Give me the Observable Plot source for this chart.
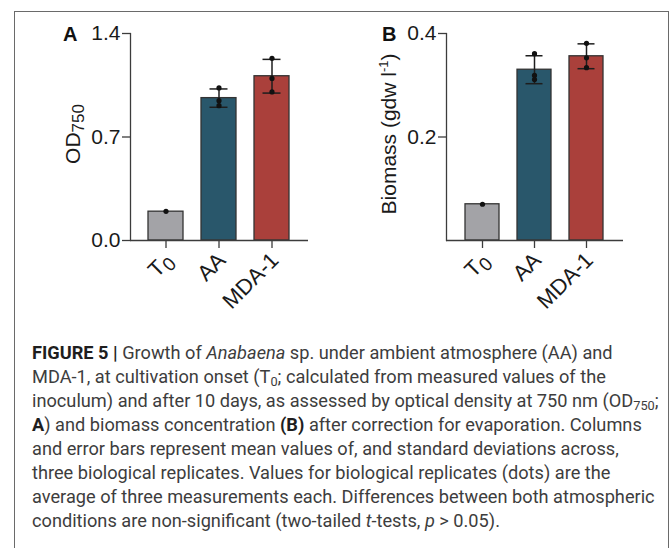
<!DOCTYPE html>
<html><head><meta charset="utf-8">
<script src="https://cdn.jsdelivr.net/npm/d3@7"></script>
<script src="https://cdn.jsdelivr.net/npm/@observablehq/plot@0.6"></script>
<style>
html,body{margin:0;padding:0;background:#fff;}
body{width:669px;height:548px;overflow:hidden;position:relative;font-family:"Liberation Sans",Arial,sans-serif;}
#frame{position:absolute;left:14px;top:11px;width:655px;height:700px;border:1px solid #6a6a6a;box-sizing:border-box;}
#pa{position:absolute;left:0;top:0;}
#pb{position:absolute;left:330px;top:0;}
.plabel{position:absolute;font-weight:bold;font-size:20px;color:#111;line-height:1;}
#cap{position:absolute;left:32px;top:341px;font-family:Roboto,"Liberation Sans",sans-serif;font-size:18.2px;line-height:24px;color:#3d3d3d;white-space:nowrap;}
#cap b{color:#1e1e1e;}
#cap sub{font-size:.7em;line-height:0;vertical-align:-0.25em;}
</style></head>
<body>
<div id="frame"></div>
<div id="pa"></div>
<div id="pb"></div>
<div class="plabel" style="left:63px;top:24px;">A</div>
<div class="plabel" style="left:382px;top:24px;">B</div>
<div id="cap">
<div><b>FIGURE 5 |</b> Growth of <i>Anabaena</i> sp. under ambient atmosphere (AA) and</div>
<div>MDA-1, at cultivation onset (T<sub>0</sub>; calculated from measured values of the</div>
<div>inoculum) and after 10 days, as assessed by optical density at 750 nm (OD<sub>750</sub>;</div>
<div><b>A</b>) and biomass concentration <b>(B)</b> after correction for evaporation. Columns</div>
<div>and error bars represent mean values of, and standard deviations across,</div>
<div>three biological replicates. Values for biological replicates (dots) are the</div>
<div>average of three measurements each. Differences between both atmospheric</div>
<div>conditions are non-significant (two-tailed <i>t</i>-tests, <i>p</i> &gt; 0.05).</div>
</div>
<script>
// ---- data ----
const categories = ["T0", "AA", "MDA-1"];
const barColors = ["#a3a3a7", "#29576b", "#aa403b"];

// Panel A: optical density OD750
const odMean = [0.195, 0.963, 1.111];
const odSD = [0, 0.062, 0.114];
const odT0 = [0.197];
const odAA = [1.032, 0.946, 0.912];
const odMDA = [1.232, 1.096, 1.005];
const odTicks = [0, 0.7, 1.4];

// Panel B: biomass (gdw l-1)
const bmMean = [0.070, 0.330, 0.356];
const bmSD = [0, 0.027, 0.024];
const bmT0 = [0.070];
const bmAA = [0.361, 0.311, 0.319];
const bmMDA = [0.381, 0.353, 0.334];
const bmTicks = [0.2, 0.4];

const FONT = "Liberation Sans, Arial, sans-serif";

function panel({means, sds, reps, yDomain, yTicks, label, width, marginLeft, marginRight, labelDx}) {
  const bars = categories.map((c, i) => ({cat: c, mean: means[i], sd: sds[i], color: barColors[i]}));
  const errs = bars.filter(d => d.sd > 0);
  const dots = categories.flatMap((c, i) => reps[i].map(v => ({cat: c, v})));
  const svg = Plot.plot({
    width, height: 340,
    marginTop: 33, marginBottom: 100, marginLeft, marginRight,
    style: {fontFamily: FONT, fontSize: "21px", color: "#1a1a1a", background: "transparent", overflow: "visible"},
    x: {domain: categories, paddingInner: 0.34, paddingOuter: 0.17, insetLeft: 9, insetRight: 10},
    y: {domain: yDomain},
    marks: [
      Plot.barY(bars, {x: "cat", y: "mean", fill: "color", stroke: "#333", strokeWidth: 1.3}),
      Plot.ruleX(errs, {x: "cat", y1: d => d.mean - d.sd, y2: d => d.mean + d.sd, stroke: "#1e1e1e", strokeWidth: 1.5}),
      Plot.tickY(errs, {x: "cat", y: d => d.mean + d.sd, stroke: "#1e1e1e", strokeWidth: 1.5, insetLeft: 8.5, insetRight: 8.5}),
      Plot.tickY(errs, {x: "cat", y: d => d.mean - d.sd, stroke: "#1e1e1e", strokeWidth: 1.5, insetLeft: 8.5, insetRight: 8.5}),
      Plot.dot(dots, {x: "cat", y: "v", r: 2.6, fill: "#111", stroke: "none"}),
      Plot.axisY({ticks: yTicks, tickSize: 8, tickPadding: 2, tickFormat: d3.format(".1f"), label: null, fontSize: 21, stroke: "#3c3c3c", strokeWidth: 1.3}),
      Plot.axisX({tickSize: 8, tickFormat: () => "", label: null, stroke: "#3c3c3c", strokeWidth: 1.3}),
      Plot.frame({anchor: "left", stroke: "#3c3c3c", strokeWidth: 1.3}),
      Plot.ruleY([yDomain[0]], {stroke: "#3c3c3c", strokeWidth: 1.3}),
      Plot.text(categories, {x: d => d, frameAnchor: "bottom", text: d => d, rotate: -45, textAnchor: "end", dx: 8, dy: 21, fontSize: 22, fill: "#1a1a1a"}),
      Plot.text([label], {frameAnchor: "left", text: d => d, rotate: -90, textAnchor: "middle", lineAnchor: "bottom", dx: labelDx, dy: -3, fontSize: 21, fill: "#1a1a1a"})
    ]
  });
  return svg;
}

function richText(svg, str, parts) {
  d3.select(svg).selectAll("text").filter(function() { return this.textContent === str; }).each(function() {
    const t = d3.select(this);
    t.text(null);
    let shift = 0;
    for (const p of parts) {
      const ts = t.append("tspan").text(p.t);
      const target = p.dy || 0;
      if (target !== shift) ts.attr("dy", (target - shift) + "px");
      shift = target;
      if (p.size) ts.attr("font-size", p.size + "px");
    }
  });
}

const svgA = panel({means: odMean, sds: odSD, reps: [odT0, odAA, odMDA], yDomain: [0, 1.4], yTicks: odTicks,
  label: "OD750", width: 330, marginLeft: 130, marginRight: 22, labelDx: -51});
const svgB = panel({means: bmMean, sds: bmSD, reps: [bmT0, bmAA, bmMDA], yDomain: [0, 0.4], yTicks: bmTicks,
  label: "Biomass (gdw l-1)", width: 339, marginLeft: 116, marginRight: 46, labelDx: -51});

for (const s of [svgA, svgB]) {
  richText(s, "T0", [{t: "T"}, {t: "0", dy: 5, size: 19}]);
}
richText(svgA, "OD750", [{t: "OD"}, {t: "750", dy: 4, size: 17}]);
richText(svgB, "Biomass (gdw l-1)", [{t: "Biomass (gdw l"}, {t: "-1", dy: -8, size: 13}, {t: ")"}]);

document.getElementById("pa").appendChild(svgA);
document.getElementById("pb").appendChild(svgB);
</script>
</body></html>
